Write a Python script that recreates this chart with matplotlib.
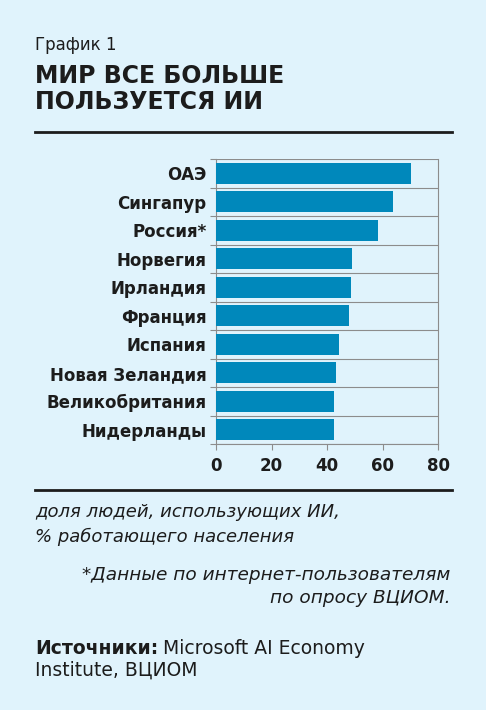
import numpy as np
import matplotlib.pyplot as plt
from matplotlib.lines import Line2D

countries = ['ОАЭ', 'Сингапур', 'Россия*', 'Норвегия', 'Ирландия', 'Франция',
             'Испания', 'Новая Зеландия', 'Великобритания', 'Нидерланды']
values = [70.2, 63.7, 58.3, 48.9, 48.5, 47.9, 44.3, 43.2, 42.4, 42.4]
xticks = [0, 20, 40, 60, 80]

bg = '#e0f3fc'
bar_color = '#0088bb'
ink = '#1c1c1c'
grid_c = '#8c8c8c'

W, H = 486, 710
fig = plt.figure(figsize=(W / 100, H / 100), dpi=100, facecolor=bg)

def fx(px):
    return px / W

def fy(py):
    return 1 - py / H

ax = fig.add_axes([fx(216), fy(444), fx(438 - 216), fy(159) - fy(444)])
ax.set_facecolor(bg)

y = np.arange(len(countries))
ax.barh(y, values, height=0.75, color=bar_color, zorder=3)
ax.set_ylim(len(countries) - 0.5, -0.5)
ax.set_xlim(0, 80)

ax.set_yticks(y, countries, fontsize=12, fontweight='bold', color=ink)
ax.tick_params(axis='y', which='major', length=0, pad=7)
ax.set_yticks(np.arange(-0.5, len(countries)), minor=True)
ax.tick_params(axis='y', which='minor', length=4.5, width=0.8, color=grid_c)
ax.grid(axis='y', which='minor', color=grid_c, linewidth=0.8, zorder=1)

ax.set_xticks(xticks, [str(v) for v in xticks], fontsize=12, fontweight='bold', color=ink)
ax.tick_params(axis='x', length=4, width=0.8, color=grid_c, pad=5)

ax.spines['top'].set_visible(False)
for s in ['left', 'right', 'bottom']:
    ax.spines[s].set_color(grid_c)
    ax.spines[s].set_linewidth(0.8)

# header
fig.text(fx(35), fy(45), 'График 1', fontsize=12, color=ink, va='center', ha='left')
fig.text(fx(35), fy(76), 'МИР ВСЕ БОЛЬШЕ', fontsize=17, fontweight='bold',
         color=ink, va='center', ha='left')
fig.text(fx(35), fy(102), 'ПОЛЬЗУЕТСЯ ИИ', fontsize=17, fontweight='bold',
         color=ink, va='center', ha='left')

for ry in (132, 490):
    fig.add_artist(Line2D([fx(35), fx(452)], [fy(ry), fy(ry)], color=ink, linewidth=2))

# notes
fig.text(fx(35), fy(512), 'доля людей, использующих ИИ,', fontsize=13, style='italic',
         color=ink, va='center', ha='left')
fig.text(fx(35), fy(537), '% работающего населения', fontsize=13, style='italic',
         color=ink, va='center', ha='left')
fig.text(fx(450), fy(575), '*Данные по интернет-пользователям', fontsize=13.3, style='italic',
         color=ink, va='center', ha='right')
fig.text(fx(450), fy(598), 'по опросу ВЦИОМ.', fontsize=13.3, style='italic',
         color=ink, va='center', ha='right')

src = fig.text(fx(35), fy(648), 'Источники:', fontsize=13.5, fontweight='bold',
               color=ink, va='center', ha='left')
r = fig.canvas.get_renderer()
bb = src.get_window_extent(renderer=r)
fig.text(bb.x1 / W + fx(5), fy(648), 'Microsoft AI Economy', fontsize=13.5,
         color=ink, va='center', ha='left')
fig.text(fx(35), fy(670), 'Institute, ВЦИОМ', fontsize=13.5, color=ink, va='center', ha='left')

fig.savefig('out.png', dpi=100, facecolor=bg)
